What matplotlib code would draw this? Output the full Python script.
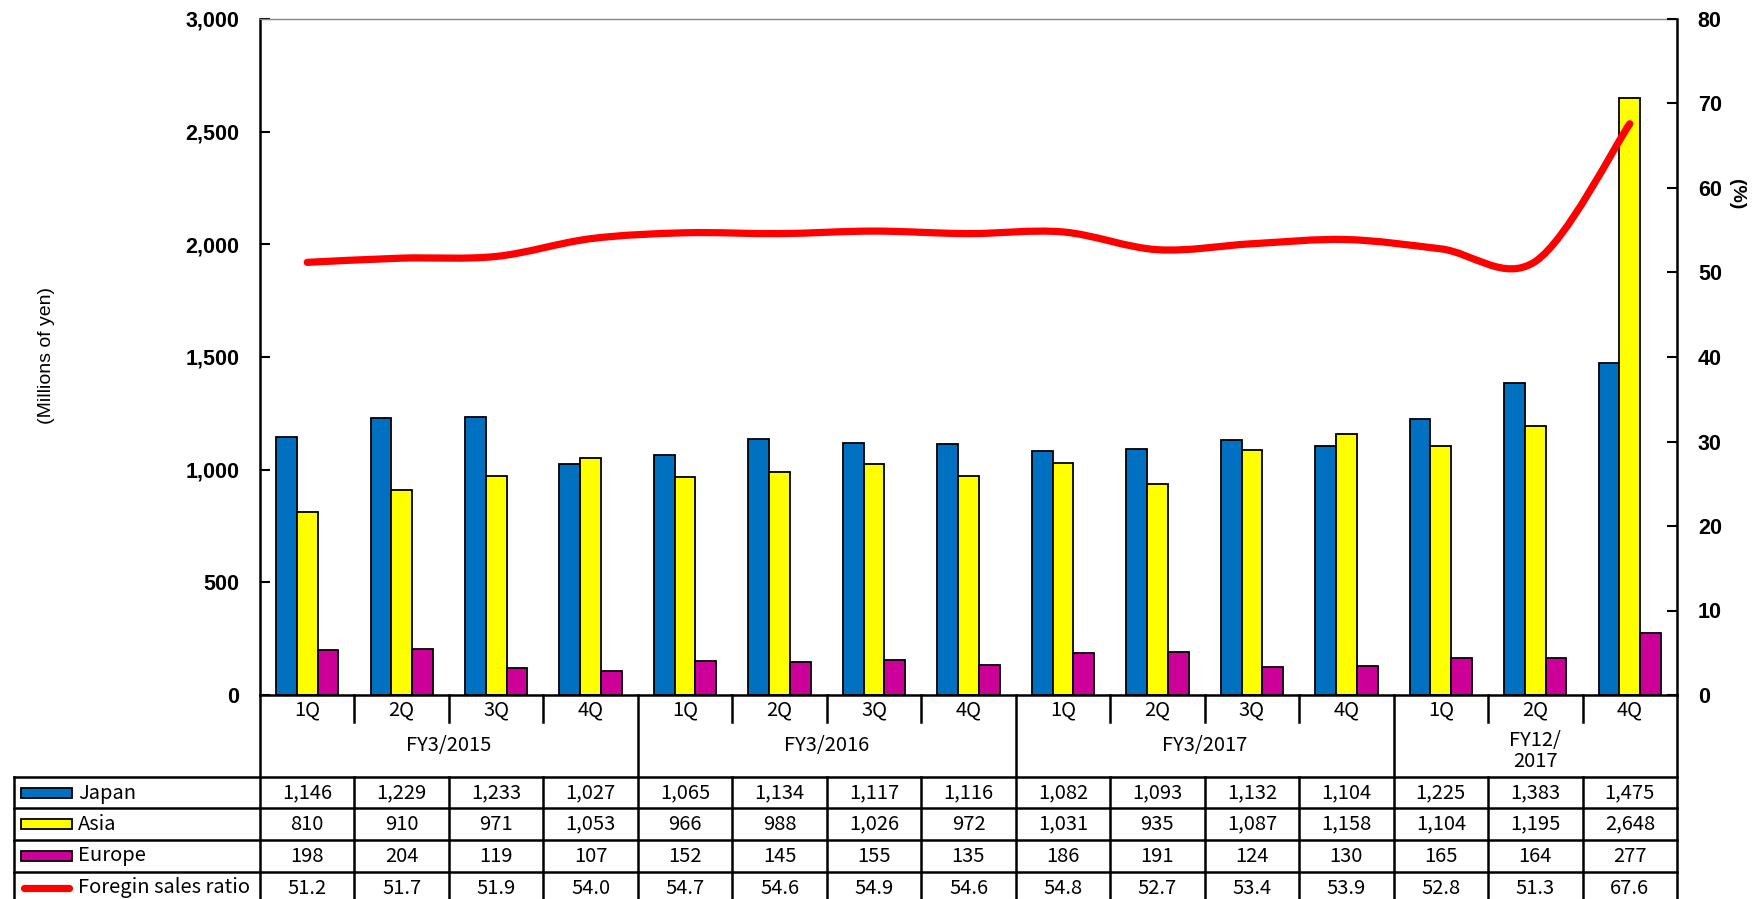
import matplotlib
matplotlib.use("Agg")
import matplotlib.pyplot as plt
from matplotlib.path import Path
from matplotlib.patches import PathPatch, Rectangle
from matplotlib.lines import Line2D
from matplotlib.transforms import blended_transform_factory
import numpy as np

quarters = ["1Q", "2Q", "3Q", "4Q", "1Q", "2Q", "3Q", "4Q",
            "1Q", "2Q", "3Q", "4Q", "1Q", "2Q", "4Q"]
fiscal_years = ["FY3/2015", "FY3/2016", "FY3/2017", "FY12/\n2017"]
fy_spans = [(0, 3), (4, 7), (8, 11), (12, 14)]
japan = [1146, 1229, 1233, 1027, 1065, 1134, 1117, 1116, 1082, 1093, 1132, 1104, 1225, 1383, 1475]
asia = [810, 910, 971, 1053, 966, 988, 1026, 972, 1031, 935, 1087, 1158, 1104, 1195, 2648]
europe = [198, 204, 119, 107, 152, 145, 155, 135, 186, 191, 124, 130, 165, 164, 277]
ratio = [51.2, 51.7, 51.9, 54.0, 54.7, 54.6, 54.9, 54.6, 54.8, 52.7, 53.4, 53.9, 52.8, 51.3, 67.6]
series_names = ["Japan", "Asia", "Europe", "Foregin sales ratio"]
colors = ["#0070C0", "#FFFF00", "#CC0099", "#FF0000"]

W, H = 1758, 899
fig = plt.figure(figsize=(W / 100, H / 100), dpi=100)
L, R, T, B = 260, 1677, 19, 695
ax = fig.add_axes([L / W, 1 - B / H, (R - L) / W, (B - T) / H])

TFONT = "Noto Sans CJK JP"
TSIZE = 14.5
KFONT = "Liberation Sans"
KSIZE = 15.5

n = len(quarters)
x = np.arange(n)
bw = 0.22
for off, vals, c in zip([-bw, 0, bw], [japan, asia, europe], colors[:3]):
    ax.bar(x + off, vals, width=bw, color=c, edgecolor="black", linewidth=1.3, zorder=2)

ax.set_xlim(-0.5, n - 0.5)
ax.set_ylim(0, 3000)
ax.set_yticks(np.arange(0, 3001, 500))
ax.set_yticklabels([f"{v:,}" for v in range(0, 3001, 500)],
                   fontfamily=KFONT, fontweight="bold", fontsize=KSIZE)
ax.set_xticks([])
ax.tick_params(axis="y", direction="in", length=7, width=1.5, pad=15)
for s in ["left", "bottom"]:
    ax.spines[s].set_linewidth(1.8)
ax.spines["right"].set_visible(False)
ax.spines["top"].set_color("#888888")
ax.spines["top"].set_linewidth(1.0)

ax2 = ax.twinx()
ax2.set_ylim(0, 80)
ax2.set_yticks(np.arange(0, 81, 10))
ax2.set_yticklabels([str(v) for v in range(0, 81, 10)],
                    fontfamily=KFONT, fontweight="bold", fontsize=KSIZE)
ax2.tick_params(axis="y", direction="in", length=7, width=1.5, pad=15)
ax2.spines["right"].set_linewidth(1.8)
for s in ["left", "top", "bottom"]:
    ax2.spines[s].set_visible(False)

# smoothed line (Bezier through the data points)
pts = np.column_stack([x, ratio]).astype(float)
verts = [tuple(pts[0])]
codes = [Path.MOVETO]
for i in range(n - 1):
    p0 = pts[i - 1] if i > 0 else pts[i]
    p1 = pts[i]
    p2 = pts[i + 1]
    p3 = pts[i + 2] if i + 2 < n else pts[i + 1]
    c1 = p1 + (p2 - p0) / 6.0
    c2 = p2 - (p3 - p1) / 6.0
    verts += [tuple(c1), tuple(c2), tuple(p2)]
    codes += [Path.CURVE4] * 3
ax2.add_patch(PathPatch(Path(verts, codes), fill=False, edgecolor=colors[3],
                        linewidth=5.2, capstyle="round", joinstyle="round", zorder=3))

# axis labels
fig.text(47 / W, 1 - 356 / H, "(Millions of yen)", rotation=90, ha="center", va="center",
         fontfamily=KFONT, fontsize=14)
fig.text(1737 / W, 1 - 194 / H, "(%)", rotation=270, ha="center", va="center",
         fontfamily=KFONT, fontsize=14, fontweight="bold")

# ---- data table below the chart ----
bt = blended_transform_factory(ax.transData, fig.transFigure)
ft = fig.transFigure


def fy(py):
    return 1 - py / H


def fx(px):
    return px / W


lw = 1.8
Q_BOT = 722
FY_BOT = 777
row_tops = [777, 808, 840, 872]
row_h = 32
BOTTOM = 905

# axis verticals extended
fig.add_artist(Line2D([fx(L), fx(L)], [fy(B), fy(BOTTOM)], color="black", lw=lw))
fig.add_artist(Line2D([fx(R), fx(R)], [fy(B), fy(BOTTOM)], color="black", lw=lw))
fig.add_artist(Line2D([fx(14), fx(14)], [fy(FY_BOT), fy(BOTTOM)], color="black", lw=lw))

group_edges = [3.5, 7.5, 11.5]
for i in range(n - 1):
    xe = i + 0.5
    if xe in group_edges:
        fig.add_artist(Line2D([xe, xe], [fy(B), fy(BOTTOM)], color="black", lw=lw, transform=bt))
    else:
        fig.add_artist(Line2D([xe, xe], [fy(B), fy(Q_BOT)], color="black", lw=lw, transform=bt))
        fig.add_artist(Line2D([xe, xe], [fy(FY_BOT), fy(BOTTOM)], color="black", lw=lw, transform=bt))

for yt in row_tops:
    fig.add_artist(Line2D([fx(14), fx(R)], [fy(yt), fy(yt)], color="black", lw=lw))

for i, q in enumerate(quarters):
    ax.text(i, fy(710), q, transform=bt, ha="center", va="center",
            fontfamily=TFONT, fontsize=TSIZE)

for label, (a, b_) in zip(fiscal_years, fy_spans):
    ycen = 751 if "\n" in label else 745
    ax.text((a + b_) / 2, fy(ycen), label, transform=bt, ha="center", va="center",
            fontfamily=TFONT, fontsize=TSIZE, linespacing=1.05)

rows = [japan, asia, europe, ratio]
for r, (vals, name, c) in enumerate(zip(rows, series_names, colors)):
    yc = row_tops[r] + row_h / 2
    for i, v in enumerate(vals):
        txt = f"{v:.1f}" if r == 3 else f"{v:,}"
        ax.text(i, fy(yc), txt, transform=bt, ha="center", va="center",
                fontfamily=TFONT, fontsize=TSIZE)
    fig.text(fx(78), fy(yc), name, ha="left", va="center", fontfamily=TFONT, fontsize=TSIZE)
    if r < 3:
        fig.add_artist(Rectangle((fx(21), fy(yc + 5)), fx(51), 10 / H, transform=ft,
                                 facecolor=c, edgecolor="black", lw=1.3))
    else:
        fig.add_artist(Line2D([fx(24), fx(69)], [fy(yc), fy(yc)], color=c, lw=5.2,
                              solid_capstyle="round"))

fig.savefig("out.png", dpi=100)
